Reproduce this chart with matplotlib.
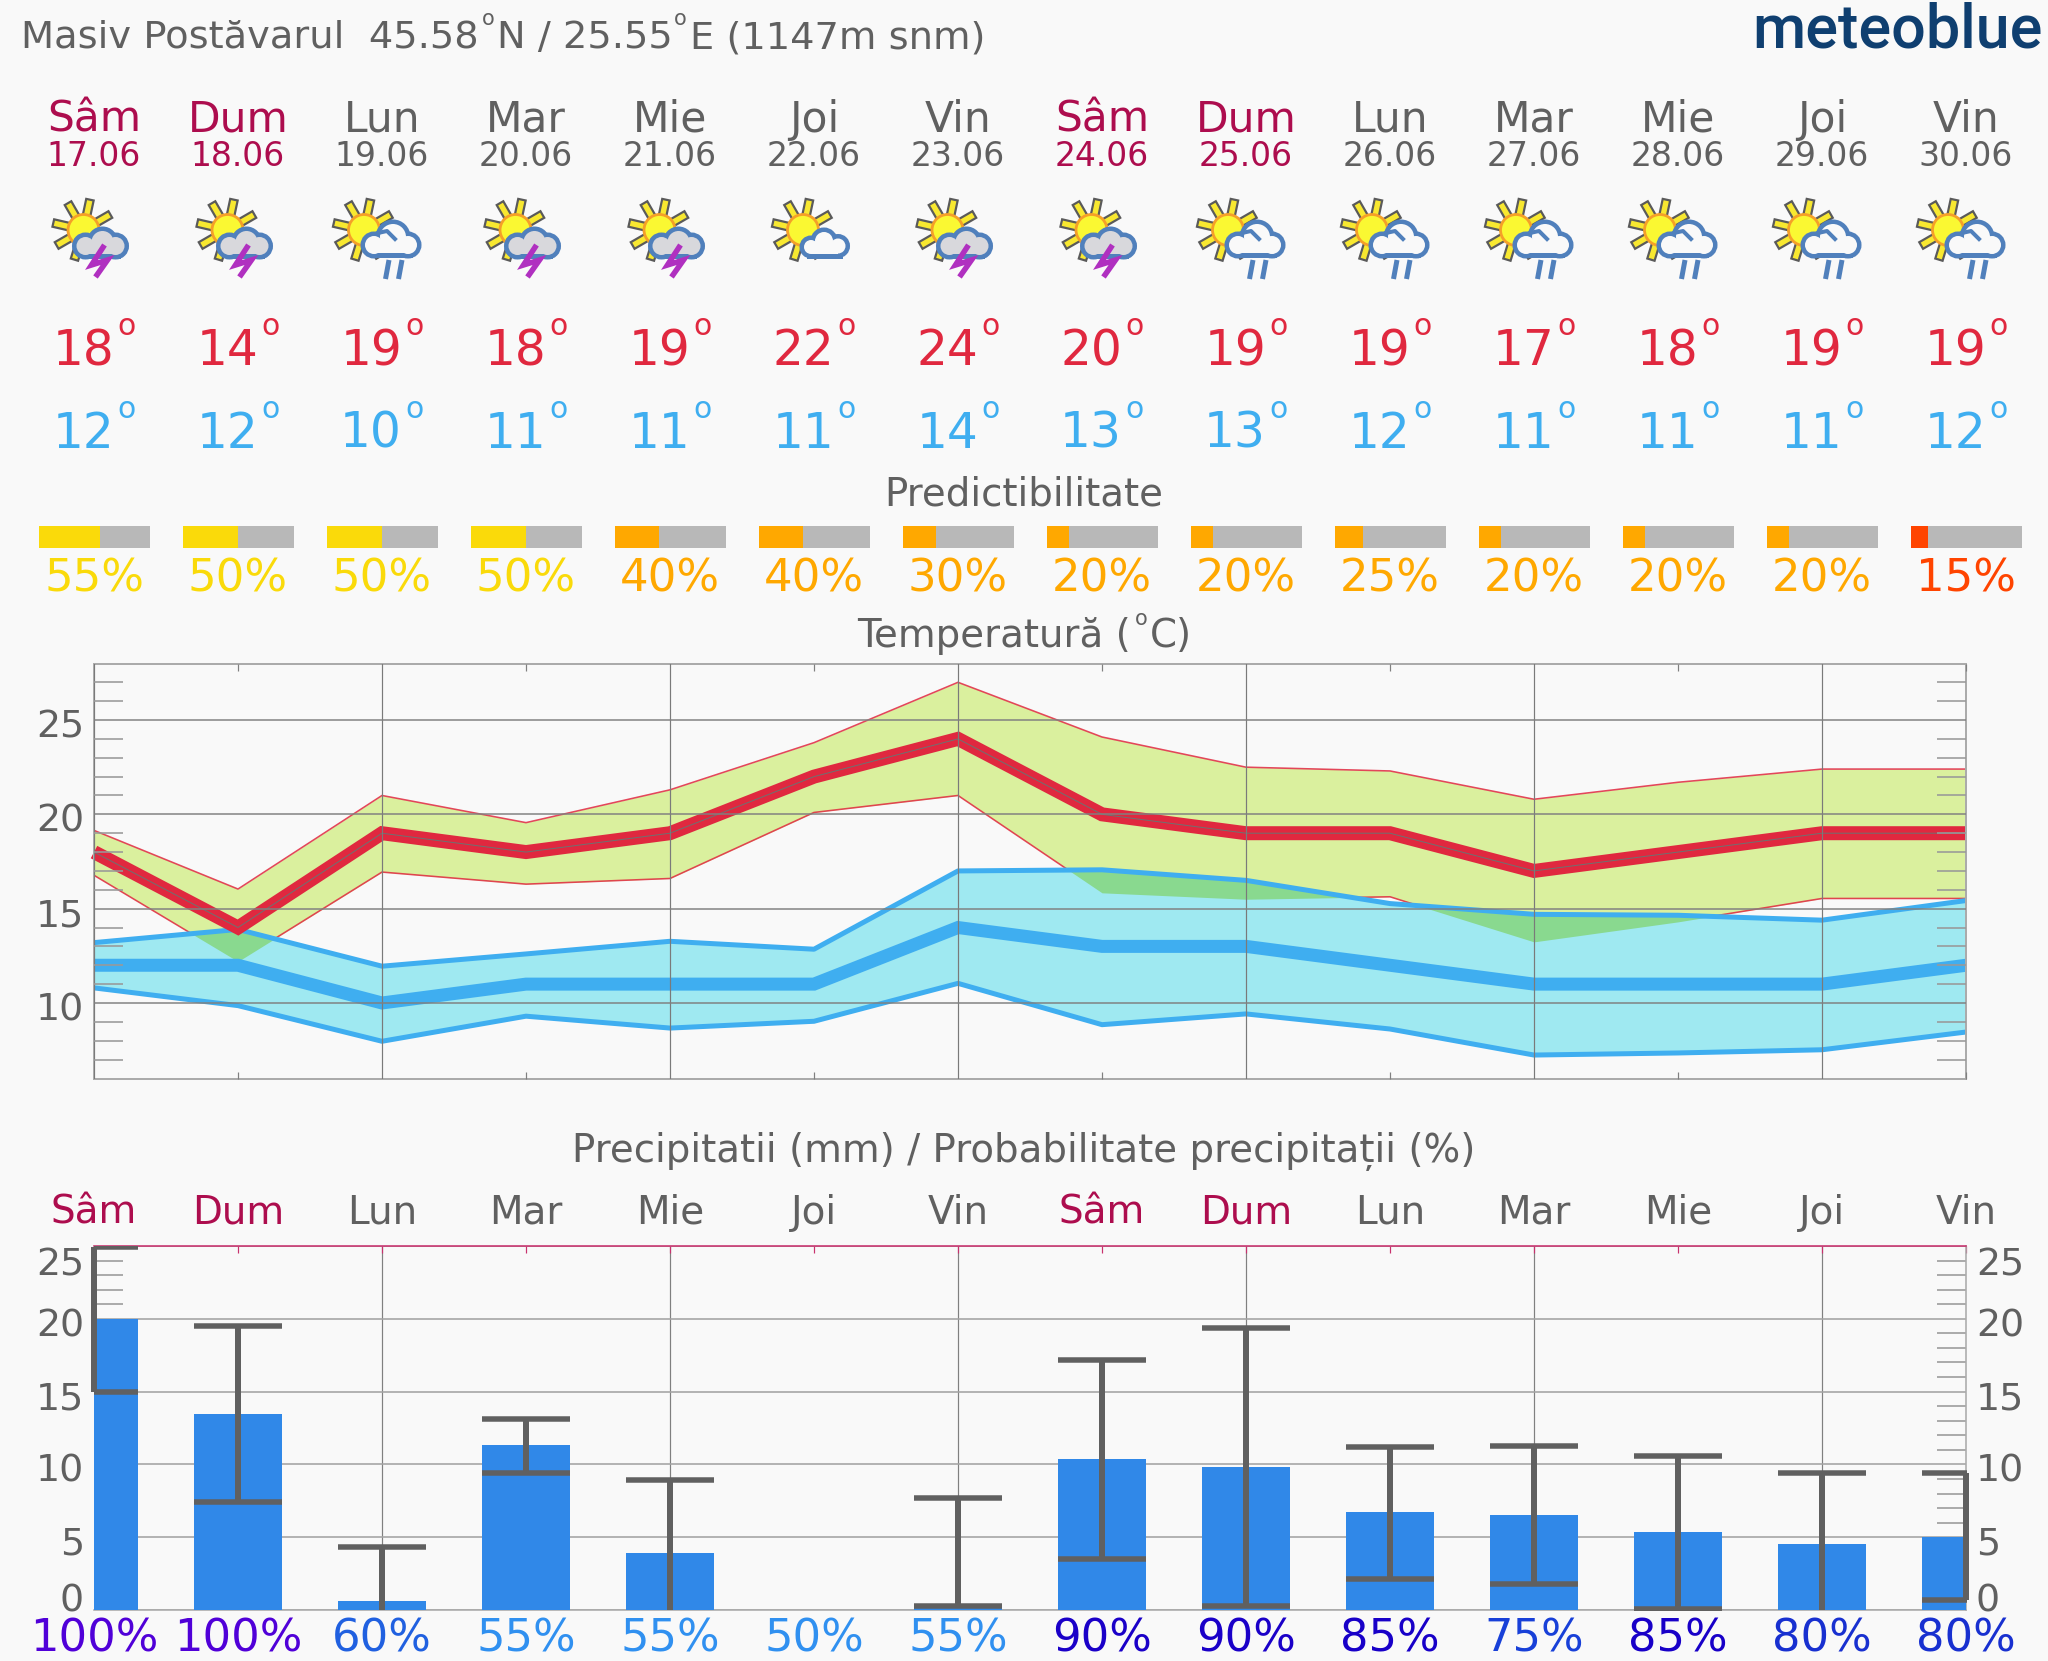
import numpy as np
import matplotlib
matplotlib.use("Agg")
import matplotlib.pyplot as plt
from matplotlib.patches import Circle, Rectangle, Polygon
from matplotlib.transforms import ScaledTranslation
from matplotlib.ticker import FixedLocator, NullFormatter

# ---------- data ----------
days = ["Sâm", "Dum", "Lun", "Mar", "Mie", "Joi", "Vin", "Sâm", "Dum", "Lun", "Mar", "Mie", "Joi", "Vin"]
dates = ["17.06", "18.06", "19.06", "20.06", "21.06", "22.06", "23.06", "24.06", "25.06", "26.06", "27.06", "28.06", "29.06", "30.06"]
icons = ["T", "T", "R", "T", "T", "C", "T", "T", "R", "R", "R", "R", "R", "R"]
tmax = [18, 14, 19, 18, 19, 22, 24, 20, 19, 19, 17, 18, 19, 19]
tmin = [12, 12, 10, 11, 11, 11, 14, 13, 13, 12, 11, 11, 11, 12]
predict = [55, 50, 50, 50, 40, 40, 30, 20, 20, 25, 20, 20, 20, 15]
max_upper = [19.15, 16.04, 21.0, 19.56, 21.3, 23.8, 27.0, 24.1, 22.5, 22.3, 20.8, 21.7, 22.4, 22.4]
max_lower = [16.77, 12.2, 16.94, 16.3, 16.6, 20.1, 21.0, 15.84, 15.5, 15.63, 13.24, 14.3, 15.54, 15.54]
min_upper = [13.2, 13.9, 11.95, 12.6, 13.27, 12.85, 17.0, 17.06, 16.5, 15.27, 14.7, 14.65, 14.39, 15.43]
min_lower = [10.8, 9.86, 7.97, 9.3, 8.67, 9.03, 11.04, 8.85, 9.42, 8.62, 7.24, 7.35, 7.52, 8.46]
precip = [20.0, 13.46, 0.6, 11.3, 3.9, 0.0, 0.35, 10.4, 9.8, 6.7, 6.5, 5.36, 4.55, 5.0]
precip_low = [15.0, 7.4, -0.3, 9.4, -0.3, np.nan, 0.3, 3.5, 0.27, 2.1, 1.8, 0.1, -0.3, 0.66]
precip_high = [24.9, 19.5, 4.33, 13.1, 8.93, np.nan, 7.7, 17.2, 19.4, 11.2, 11.25, 10.6, 9.43, 9.4]
prob = [100, 100, 60, 55, 55, 50, 55, 90, 90, 85, 75, 85, 80, 80]

# ---------- style ----------
W, H = 2048, 1661
DPI = 100
px = 72 / DPI
BG = "#F9F9F9"
GREY = "#606060"
CRIMSON = "#AD0D4E"
RED = "#E0283F"
BLUE = "#3FAEF0"
WEEKEND = {0, 1, 7, 8}
L, R = 94, 1966
n = len(days)
xs = np.arange(n)
dx = (R - L) / (n - 1)


def day_px(i):
    return L + i * dx


def pred_color(v):
    return "#FF4400" if v < 20 else ("#FFA800" if v < 45 else "#FADA0A")


def prob_color(v):
    table = {100: "#5000D8", 90: "#1A00C8", 85: "#1800C8", 80: "#1830D0",
             75: "#1840D8", 60: "#2060E0", 55: "#3090F0", 50: "#3090F0"}
    return table[v]


fig = plt.figure(figsize=(W / DPI, H / DPI), dpi=DPI, facecolor=BG)
ov = fig.add_axes([0, 0, 1, 1], zorder=0)
ov.set_xlim(0, W)
ov.set_ylim(H, 0)
ov.axis("off")


def add_axes_px(x0, y0, x1, y1, **kw):
    return fig.add_axes([x0 / W, 1 - y1 / H, (x1 - x0) / W, (y1 - y0) / H], facecolor="none", **kw)


def t(x, y, s, size, color=GREY, ha="left", **kw):
    ov.text(x, y, s, fontsize=size, color=color, ha=ha, va="baseline", family="DejaVu Sans", **kw)


# ---------- header ----------
T_SIZE = 27.6
t(21, 48, "Masiv Postăvarul  45.58", T_SIZE)
t(482, 25, "o", 15)
t(497, 48, "N / 25.55", T_SIZE)
t(674, 25, "o", 15)
t(690, 48, "E (1147m snm)", T_SIZE)
ov.text(2043, 47, "meteoblue", fontsize=44, color="#0F3F70", ha="right", va="baseline",
        family="Roboto", fontweight="medium")


# ---------- icons ----------
def sun(cx):
    sx, sy = cx - 11, 230
    for a in [30, 78, 120, 167, 210, 253, 300, 345]:
        r = np.deg2rad(a)
        u = np.array([np.cos(r), -np.sin(r)])
        v = np.array([-u[1], u[0]])
        c = np.array([sx, sy])
        pts = [c + u * 14 + v * 3.8, c + u * 31 + v * 3.8, c + u * 31 - v * 3.8, c + u * 14 - v * 3.8]
        ov.add_patch(Polygon(pts, closed=True, fc="#F8E830", ec="#5A5A5A", lw=2.2 * px, zorder=2))
    ov.add_patch(Circle((sx, sy), 15.5, fc="#FAF832", ec="#F5A028", lw=2.8 * px, zorder=3))


def cloud(lobes, rect, fill):
    edge = "#5080BC"
    lw = 4.5
    for (x, y, r) in lobes:
        ov.add_patch(Circle((x, y), r, fc=edge, ec=edge, lw=lw * px * 2, zorder=4))
    x0, y0, x1, y1 = rect
    ov.add_patch(Rectangle((x0, y0), x1 - x0, y1 - y0, fc=edge, ec=edge, lw=lw * px * 2, zorder=4))
    for (x, y, r) in lobes:
        ov.add_patch(Circle((x, y), r, fc=fill, ec="none", zorder=5))
    ov.add_patch(Rectangle((x0, y0), x1 - x0, y1 - y0, fc=fill, ec="none", zorder=5))


def draw_icon(cx, kind):
    if kind == "T":
        cx0 = cx + 0.5
        sun(cx0)
        cloud([(cx0 - 9, 246, 9), (cx0 + 8, 242, 11), (cx0 + 21, 246, 9)],
              (cx0 - 9, 246, cx0 + 21, 254), "#D8D8DC")
        ov.plot([cx0 + 10, cx0 - 3, cx0 + 13, cx0 + 1], [245, 265, 260, 277], color="#B030C0", lw=5.5 * px,
                solid_capstyle="butt", solid_joinstyle="miter", zorder=6)
    elif kind == "R":
        c = cx - 7
        sun(c)
        cloud([(c - 1, 245, 9), (c + 18, 237, 13), (c + 33, 245, 9)],
              (c - 1, 244, c + 33, 253), BG)
        ov.plot([c + 3, c + 12, c + 20], [233, 231, 239], color="#5080BC", lw=4 * px, zorder=6)
        for off in (14, 27):
            ov.plot([c + off, c + off - 3.5], [260, 279], color="#5080BC", lw=5 * px,
                    solid_capstyle="butt", zorder=6)
    else:
        sun(cx)
        cloud([(cx - 3, 247, 7), (cx + 10, 241, 9), (cx + 24, 246, 7.5)],
              (cx - 3, 246, cx + 24, 254), BG)


# ---------- day columns ----------
for i in range(n):
    cx = day_px(i)
    col = CRIMSON if i in WEEKEND else GREY
    t(cx, 132, days[i], 30.5, col, ha="center")
    t(cx, 166, dates[i], 23.8, col, ha="center")
    draw_icon(cx, icons[i])
    t(cx + 20, 365, str(tmax[i]), 35, RED, ha="right")
    t(cx + 23, 335, "o", 21.5, RED)
    t(cx + 20, 448, str(tmin[i]), 35, BLUE, ha="right")
    t(cx + 23, 418, "o", 21.5, BLUE)
    t(cx, 591, f"{predict[i]}%", 32.4, pred_color(predict[i]), ha="center")
    t(cx, 1224, days[i], 28, col, ha="center")
    t(cx, 1652, f"{prob[i]}%", 32.3, prob_color(prob[i]), ha="center")

t(1024, 506, "Predictibilitate", 27.9, ha="center")
t(857, 647, "Temperatură (", 27.9)
t(1135, 625, "o", 15)
t(1150, 647, "C)", 27.9)
t(1024, 1162, "Precipitatii (mm) / Probabilitate precipitații (%)", 27.9, ha="center")

# ---------- predictability bars ----------
ap = add_axes_px(L, 526, R, 548, zorder=1)
ap.set_xlim(0, n - 1)
ap.set_ylim(0, 1)
ap.axis("off")
BW = 0.77
frac = np.array(predict) / 100 * BW
ap.bar(xs - BW / 2 + 0.003, [1] * n, width=BW, align="edge", color="#B8B8B8", clip_on=False)
ap.bar(xs - BW / 2 + 0.003, [1] * n, width=frac, align="edge", color=[pred_color(v) for v in predict], clip_on=False)

# ---------- temperature ----------
at = add_axes_px(L, 664, R, 1079, zorder=2)
at.set_xlim(0, n - 1)
at.set_ylim(5.97, 27.97)
at.set_axisbelow(False)

red_fill = at.fill_between(xs, max_lower, max_upper, color="#DAF09E", lw=0, zorder=1)
at.plot(xs, max_upper, color=RED, lw=1.6 * px, alpha=0.85, zorder=1.1)
at.plot(xs, max_lower, color=RED, lw=1.6 * px, alpha=0.85, zorder=1.1)
blue_fill = at.fill_between(xs, min_lower, min_upper, color="#9FE9F1", lw=0, zorder=1.2)
overlap = at.fill_between(xs, max_lower, max_upper, color="#89D98F", lw=0, zorder=1.3)
overlap.set_clip_path(blue_fill.get_paths()[0], at.transData)
at.plot(xs, min_upper, color=BLUE, lw=5 * px, zorder=1.4)
at.plot(xs, min_lower, color=BLUE, lw=5 * px, zorder=1.4)
at.plot(xs, tmin, color=BLUE, lw=13 * px, solid_capstyle="butt", solid_joinstyle="miter", clip_on=False, zorder=1.5)
at.plot(xs, tmax, color=RED, lw=14 * px, solid_capstyle="butt", solid_joinstyle="miter", clip_on=False, zorder=1.6)
at.plot(xs, tmax, color="#707070", lw=1.0 * px, zorder=1.7)

temp_major = [10, 15, 20, 25]
temp_minor = [v for v in range(7, 28) if v % 5 != 0]
at.set_yticks(temp_major)
at.set_yticklabels([str(v) for v in temp_major])
at.yaxis.set_minor_locator(FixedLocator(temp_minor))
at.yaxis.set_minor_formatter(NullFormatter())
at.set_xticks(xs[::2])
at.set_xticklabels([])
at.xaxis.set_minor_locator(FixedLocator(xs[1::2]))
at.grid(True, which="major", axis="y", color="#808080", lw=1.5 * px, zorder=3)
at.grid(True, which="major", axis="x", color="#7A7A7A", lw=1.2 * px, zorder=3)
at.tick_params(axis="y", which="major", length=0, labelsize=27.3, labelcolor=GREY, pad=10 * px)
at.tick_params(axis="y", which="minor", direction="in", length=29 * px, width=1.6 * px, color="#999999",
               left=True, right=True)
at.tick_params(axis="x", which="major", length=0)
at.tick_params(axis="x", which="minor", direction="in", length=7 * px, width=1.2 * px, color="#808080",
               top=True, bottom=True)
for s in at.spines.values():
    s.set_color("#ABABAB")
    s.set_linewidth(2 * px)
for lab in at.get_yticklabels():
    lab.set_transform(lab.get_transform() + ScaledTranslation(0, -3.5 / DPI, fig.dpi_scale_trans))

# ---------- precipitation ----------
ar = add_axes_px(L, 1246, R, 1610, zorder=2)
ar.set_xlim(0, n - 1)
ar.set_ylim(0, 24.93)
ar.set_axisbelow(True)
ar.bar(xs + 0.002, precip, width=0.61, color="#3088E8", zorder=3)
low = np.array(precip_low)
high = np.array(precip_high)
mid = (low + high) / 2
_, caps, stems = ar.errorbar(xs, mid, yerr=(high - low) / 2, fmt="none", ecolor="#606060",
                             elinewidth=6 * px, capsize=44 * px, capthick=5.5 * px, zorder=4)
stem_clip = Rectangle((-0.03, 0), n - 1 + 0.06, 24.93, transform=ar.transData)
for st in stems:
    st.set_clip_path(stem_clip)

precip_major = [0, 5, 10, 15, 20, 25]
precip_minor = [v for v in range(1, 25) if v % 5 != 0]
ar.set_yticks(precip_major)
ar.set_yticklabels([str(v) for v in precip_major])
ar.yaxis.set_minor_locator(FixedLocator(precip_minor))
ar.yaxis.set_minor_formatter(NullFormatter())
ar.set_xticks(xs[::2])
ar.set_xticklabels([])
ar.xaxis.set_minor_locator(FixedLocator(xs[1::2]))
ar.grid(True, which="major", axis="y", color="#A4A4A4", lw=1.6 * px, zorder=1)
ar.grid(True, which="major", axis="x", color="#808080", lw=1.2 * px, zorder=1)
ar.tick_params(axis="y", which="major", length=0, labelsize=27.3, labelcolor=GREY, pad=10 * px,
               left=False, right=False, labelleft=True, labelright=True)
ar.tick_params(axis="y", which="minor", direction="in", length=29 * px, width=1.6 * px, color="#999999",
               left=True, right=True)
ar.tick_params(axis="x", which="major", direction="in", length=7 * px, width=1.2 * px, color="#C8326E",
               top=True, bottom=False)
ar.tick_params(axis="x", which="minor", direction="in", length=7 * px, width=1.2 * px, color="#C8326E",
               top=True, bottom=False)
for name, s in ar.spines.items():
    s.set_color("#ABABAB")
    s.set_linewidth(1.6 * px)
ar.spines["top"].set_color("#C8326E")
ar.spines["left"].set_visible(False)

offs = {0: 12, 25: -15}
for lab_list in (ar.yaxis.get_ticklabels(), [tk.label2 for tk in ar.yaxis.get_major_ticks()]):
    for lab, v in zip(lab_list, precip_major):
        lab.set_transform(lab.get_transform() + ScaledTranslation(0, offs.get(v, -3.5) / DPI, fig.dpi_scale_trans))

fig.savefig("out.png", dpi=DPI, facecolor=BG)
